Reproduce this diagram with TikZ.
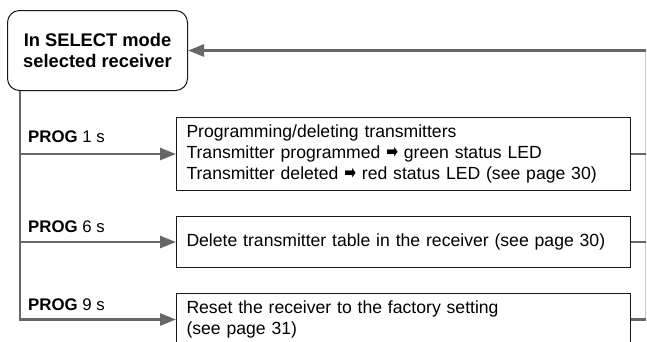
\documentclass[tikz,border=0pt]{standalone}
\usepackage{fontspec}
\usepackage{graphicx}
\setmainfont{Liberation Sans}
\newfontfamily\symfont{DejaVu Sans}
\usetikzlibrary{arrows.meta}
\definecolor{conncol}{HTML}{676767}
\definecolor{thincol}{HTML}{C8C8C8}
\newcommand{\rarr}{\raisebox{-0.3pt}{\scalebox{0.7}[1.0]{\symfont\fontsize{20}{20}\selectfont ➡}}}
\begin{document}
\begin{tikzpicture}[x=1pt,y=-1pt,
  conn/.style={draw=conncol, line width=2.5pt},
  arr/.style={conn, -{Triangle[length=16pt,width=12pt]}},
  thinline/.style={draw=thincol, line width=1pt},
  box/.style={draw=black!90, line width=1pt, anchor=north west, inner xsep=10pt, inner ysep=0pt,
    text width=434pt, align=left, font=\fontsize{17.6}{21}\selectfont},
  lbl/.style={anchor=base west, inner sep=0pt, font=\fontsize{16.8}{18}\selectfont}]
\useasboundingbox (0,0) rectangle (647,341);
\node[draw=black!90, rounded corners=12pt, line width=1pt, minimum width=180pt, minimum height=80pt,
  align=center, font=\bfseries\fontsize{18.3}{21}\selectfont, anchor=north west, inner sep=0pt]
  (top) at (7,10) {In SELECT mode\\selected receiver};
\node[box, minimum height=73pt] (b1) at (176,117)
  {Programming/deleting transmitters\\
   Transmitter programmed \rarr\ green status LED\\
   Transmitter deleted \rarr\ red status LED (see page 30)};
\node[box, minimum height=51pt] (b2) at (176,216)
  {Delete transmitter table in the receiver (see page 30)};
\node[box, minimum height=52pt] (b3) at (176,293)
  {Reset the receiver to the factory setting\\(see page 31)};
\coordinate (L) at (20,0);
\coordinate (R) at (645.5,0);
\node[lbl] (p1) at (28,142) {\textbf{PROG} 1 s};
\node[lbl] (p2) at (28,232) {\textbf{PROG} 6 s};
\node[lbl] (p3) at (28,310) {\textbf{PROG} 9 s};
\draw[arr] (top.south -| L) -- (b3.west -| L) -- (b3.west);
\draw[arr] (b1.west -| L) -- (b1.west);
\draw[arr] (b2.west -| L) -- (b2.west);
\draw[thinline] (top.east -| R) -- (b3.east -| R);
\draw[conn] (b1.east) -- (b1.east -| R);
\draw[conn] (b2.east) -- (b2.east -| R);
\draw[conn] (b3.east) -- (b3.east -| R);
\draw[arr] (top.east -| R) -- (top.east);
\end{tikzpicture}
\end{document}
